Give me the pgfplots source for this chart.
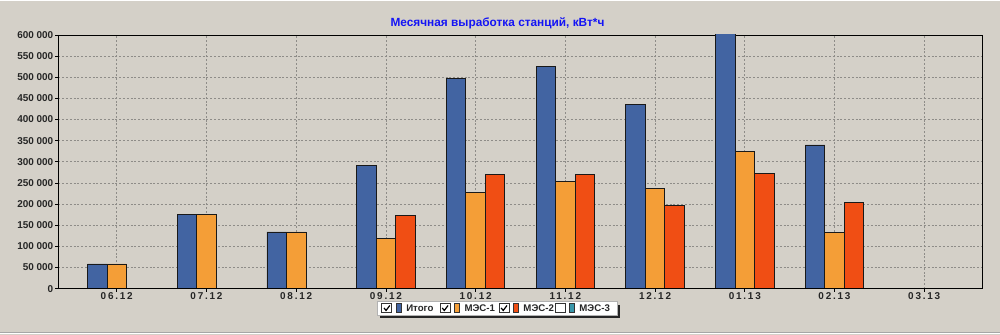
\documentclass[border=0pt]{standalone}
\usepackage{fontspec}
\setmainfont{Liberation Sans}
\usepackage{pgfplots}
\pgfplotsset{compat=1.18}
\definecolor{bg}{HTML}{D4D0C8}
\definecolor{cblue}{HTML}{4264A2}
\definecolor{corange}{HTML}{F49E37}
\definecolor{cred}{HTML}{F04E14}
\definecolor{cteal}{HTML}{3A97AA}
\definecolor{gridc}{HTML}{8E8C88}
\definecolor{ttl}{HTML}{1414F5}
\begin{document}
\begin{tikzpicture}[x=1bp,y=1bp]
\fill[bg] (0,0) rectangle (1000,335);
\draw[white,line width=1bp] (0,334.5) -- (1000,334.5);
\draw[gray!70,line width=1bp] (0,2.5) -- (1000,2.5);
\draw[white,line width=1bp] (0,1.5) -- (1000,1.5);
\begin{axis}[
  at={(58bp,46bp)}, anchor=south west,
  scale only axis, width=925bp, height=254bp,
  xmin=-0.65, xmax=9.65, ymin=0, ymax=600000,
  ybar=0pt, bar width=19.5bp,
  xtick={0,...,9},
  xticklabels={06.12,07.12,08.12,09.12,10.12,11.12,12.12,01.13,02.13,03.13},
  ytick={0,50000,100000,150000,200000,250000,300000,350000,400000,450000,500000,550000,600000},
  yticklabels={0,50 000,100 000,150 000,200 000,250 000,300 000,350 000,400 000,450 000,500 000,550 000,600 000},
  scaled y ticks=false,
  tick align=outside,
  major tick length=3bp,
  tick style={black, line width=0.8bp},
  xtick pos=bottom, ytick pos=left,
  grid=major,
  major grid style={gridc, line width=0.8bp, dash pattern=on 2bp off 1.8bp},
  axis line style={black, line width=0.9bp},
  yticklabel style={font=\fontsize{10}{12}\selectfont\bfseries, text=black!85, inner sep=2bp},
  xticklabel style={font=\fontsize{10}{12}\selectfont\bfseries\addfontfeature{LetterSpace=18}, text=black!85, inner sep=1bp},
  every axis plot/.append style={draw=black!90, line width=0.8bp},
]
\addplot[fill=cblue] coordinates {(0,58500) (1,174700) (2,134300) (3,290800) (4,497000) (5,526000) (6,434700) (7,615000) (8,339900)};
\addplot[fill=corange] coordinates {(0,58500) (1,174700) (2,134300) (3,118500) (4,228300) (5,253600) (6,237000) (7,325600) (8,133700)};
\addplot[fill=cred] coordinates {(3,172300) (4,269400) (5,271000) (6,196800) (7,271800) (8,204800)};
\draw[black, line width=1.8bp] (rel axis cs:0,1) -- (rel axis cs:0,0) -- (rel axis cs:1,0);
\end{axis}
\node[font=\fontsize{11.9}{14}\selectfont\bfseries, text=ttl] at (497.5,311.7) {Месячная выработка станций, кВт*ч};
% legend
\fill[black!85] (380,17) rectangle (620,30);
\fill[white] (377,19.5) rectangle (617,33);
\draw[gray!60, line width=0.6bp] (377,19.5) rectangle (617,33);
\foreach \cx/\col/\lab/\chk in {381.7/cblue/Итого/1, 440/corange/МЭС-1/1, 499/cred/МЭС-2/1, 555/cteal/МЭС-3/0}{
  \fill[white] (\cx,22) rectangle (\cx+10,31);
  \draw[black!80, line width=0.8bp] (\cx,22) rectangle (\cx+10,31);
  \ifnum\chk=1
    \draw[black, line width=1.2bp] (\cx+2.2,26.8) -- (\cx+4.2,24.2) -- (\cx+8,29.2);
  \fi
  \fill[\col] (\cx+14,22) rectangle (\cx+19,31);
  \draw[black!80, line width=0.6bp] (\cx+14,22) rectangle (\cx+19,31);
  \node[anchor=west, inner sep=0pt, font=\fontsize{9.7}{11}\selectfont\bfseries, text=black!85] at (\cx+24.3,26.5) {\lab};
}
\end{tikzpicture}
\end{document}
